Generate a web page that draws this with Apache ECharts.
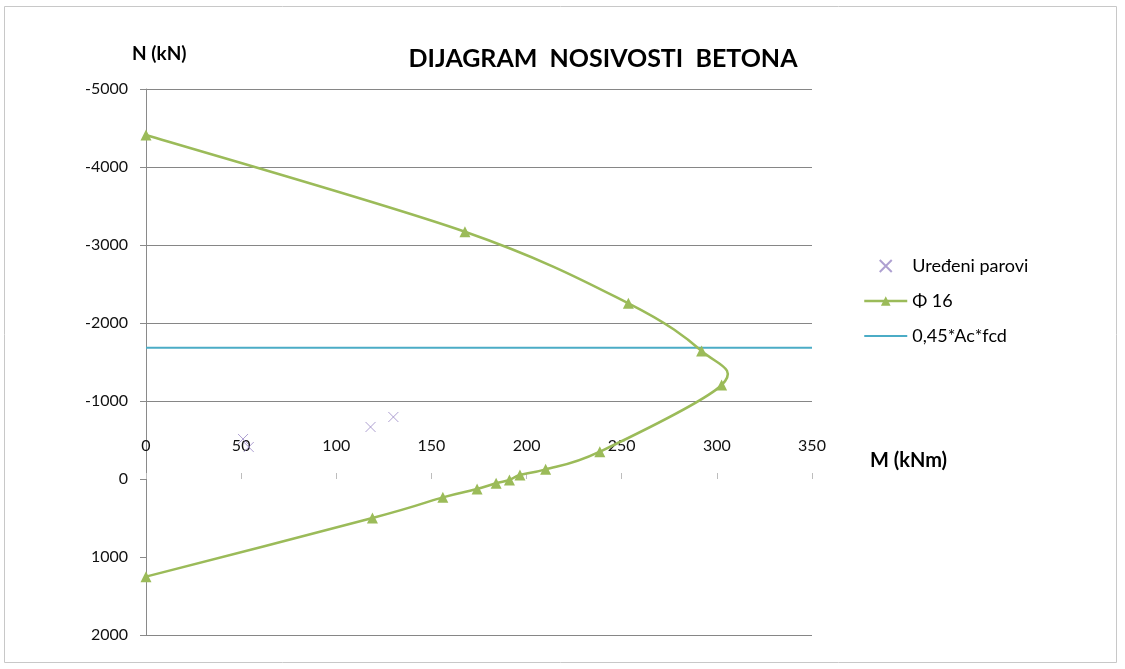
<!DOCTYPE html>
<html>
<head>
<meta charset="utf-8">
<script src="https://cdn.jsdelivr.net/npm/echarts@6/dist/echarts.min.js"></script>
<style>
html,body{margin:0;padding:0;background:#fff;}
#chart{width:1125px;height:669px;}
</style>
</head>
<body>
<div id="chart"></div>
<script>
// Data
const phiM = [0, 167.6, 253.5, 292, 302.5, 238.5, 210, 196.5, 191, 184, 174, 156, 119, 0];
const phiN = [-4410, -3170, -2252, -1641, -1205, -350, -124, -51, 13, 55, 128, 235, 500, 1252];
const pairM = [51, 54, 118, 130];
const pairN = [-513, -410, -667, -795];
const limitN = -1683;
const limitM = [0, 350];
const seriesNames = ['Uređeni parovi', 'Φ 16', '0,45*Ac*fcd'];

const FONT = 'Lato, "Open Sans", sans-serif';
const GREEN = '#9bbb59', BLUE = '#4bacc6', PURPLE = '#9a88c6';
const chart = echarts.init(document.getElementById('chart'));
const crossPath = 'path://M0,0L10,10M10,0L0,10';

// Excel-like smoothed curve (Catmull-Rom -> cubic Bezier) through the data points,
// positioned with the chart's own coordinate system.
function renderSmooth(params, api) {
  if (params.dataIndex !== 0) return null;
  const pts = phiM.map((m, i) => api.coord([m, phiN[i]]));
  const n = pts.length;
  let d = 'M' + pts[0][0] + ',' + pts[0][1];
  for (let i = 0; i < n - 1; i++) {
    const p0 = pts[Math.max(i - 1, 0)], p1 = pts[i], p2 = pts[i + 1], p3 = pts[Math.min(i + 2, n - 1)];
    const c1x = p1[0] + (p2[0] - p0[0]) / 6, c1y = p1[1] + (p2[1] - p0[1]) / 6;
    const c2x = p2[0] - (p3[0] - p1[0]) / 6, c2y = p2[1] - (p3[1] - p1[1]) / 6;
    d += ' C' + c1x + ',' + c1y + ' ' + c2x + ',' + c2y + ' ' + p2[0] + ',' + p2[1];
  }
  return { type: 'path', shape: { pathData: d }, style: { fill: 'none', stroke: GREEN, lineWidth: 2.5 } };
}

chart.setOption({
  backgroundColor: '#fff',
  animation: false,
  textStyle: { fontFamily: FONT },
  title: {
    text: 'DIJAGRAM  NOSIVOSTI  BETONA',
    left: 598, top: 41, textAlign: 'center',
    textStyle: { fontFamily: FONT, fontSize: 25, fontWeight: 'bold', color: '#000' }
  },
  graphic: [
    { type: 'rect', shape: { x: 4.5, y: 6.5, width: 1112, height: 656 }, style: { fill: 'none', stroke: '#c8c8c8', lineWidth: 1 }, z: -1 },
    { type: 'text', left: 132, top: 44, style: { text: 'N (kN)', font: 'bold 19px ' + FONT, fill: '#000' } },
    { type: 'text', left: 870, top: 451, style: { text: 'M (kNm)', font: 'bold 20px ' + FONT, fill: '#000' } }
  ],
  grid: { left: 146, right: 313, top: 89, bottom: 34, containLabel: false },
  legend: {
    orient: 'vertical', left: 858, top: 252, itemWidth: 43, itemHeight: 12, itemGap: 17,
    textStyle: { fontFamily: FONT, fontSize: 18, color: '#000' },
    data: [
      { name: seriesNames[0] },
      { name: seriesNames[1], lineStyle: { color: GREEN, width: 2.5, opacity: 1 } },
      { name: seriesNames[2], itemStyle: { color: 'rgba(0,0,0,0)', borderColor: 'rgba(0,0,0,0)', borderWidth: 0, opacity: 0 } }
    ]
  },
  xAxis: {
    type: 'value', min: 0, max: 350, interval: 50, position: 'top', offset: -390,
    axisLine: { show: true, onZero: false, lineStyle: { color: 'rgba(255,255,255,0)' } },
    axisTick: { show: true, length: 6, lineStyle: { color: '#bdbdbd' } },
    axisLabel: { margin: 25, fontSize: 16, color: '#111', fontFamily: FONT, formatter: v => String(v) },
    splitLine: { show: false }
  },
  yAxis: {
    type: 'value', inverse: true, min: -5000, max: 2000, interval: 1000,
    axisLine: { show: true, onZero: false, lineStyle: { color: '#8a8a8a' } },
    axisTick: { show: true, length: 6, lineStyle: { color: '#8a8a8a' } },
    axisLabel: { margin: 18, fontSize: 16, color: '#111', fontFamily: FONT, formatter: v => String(v) },
    splitLine: { show: true, lineStyle: { color: ['#868686', '#868686', '#868686', '#868686', '#868686', 'rgba(0,0,0,0)', 'rgba(0,0,0,0)', '#868686'], width: 1 } }
  },
  series: [
    {
      name: seriesNames[0], type: 'scatter',
      symbol: crossPath, symbolSize: 10,
      itemStyle: { color: 'rgba(0,0,0,0)', borderColor: PURPLE, borderWidth: 1 },
      data: pairM.map((m, i) => [m, pairN[i]]), z: 3
    },
    {
      name: seriesNames[1], type: 'line',
      symbol: 'triangle', symbolSize: 11, showAllSymbol: true,
      lineStyle: { color: GREEN, width: 2.5, opacity: 0 },
      itemStyle: { color: GREEN },
      data: phiM.map((m, i) => [m, phiN[i]]), z: 5
    },
    {
      name: seriesNames[1], type: 'custom', renderItem: renderSmooth,
      data: phiM.map((m, i) => [m, phiN[i]]), z: 4, silent: true
    },
    {
      name: seriesNames[2], type: 'line', symbol: 'none',
      lineStyle: { color: BLUE, width: 2 },
      itemStyle: { color: BLUE },
      data: limitM.map(m => [m, limitN]), z: 2
    }
  ]
});
</script>
</body>
</html>
